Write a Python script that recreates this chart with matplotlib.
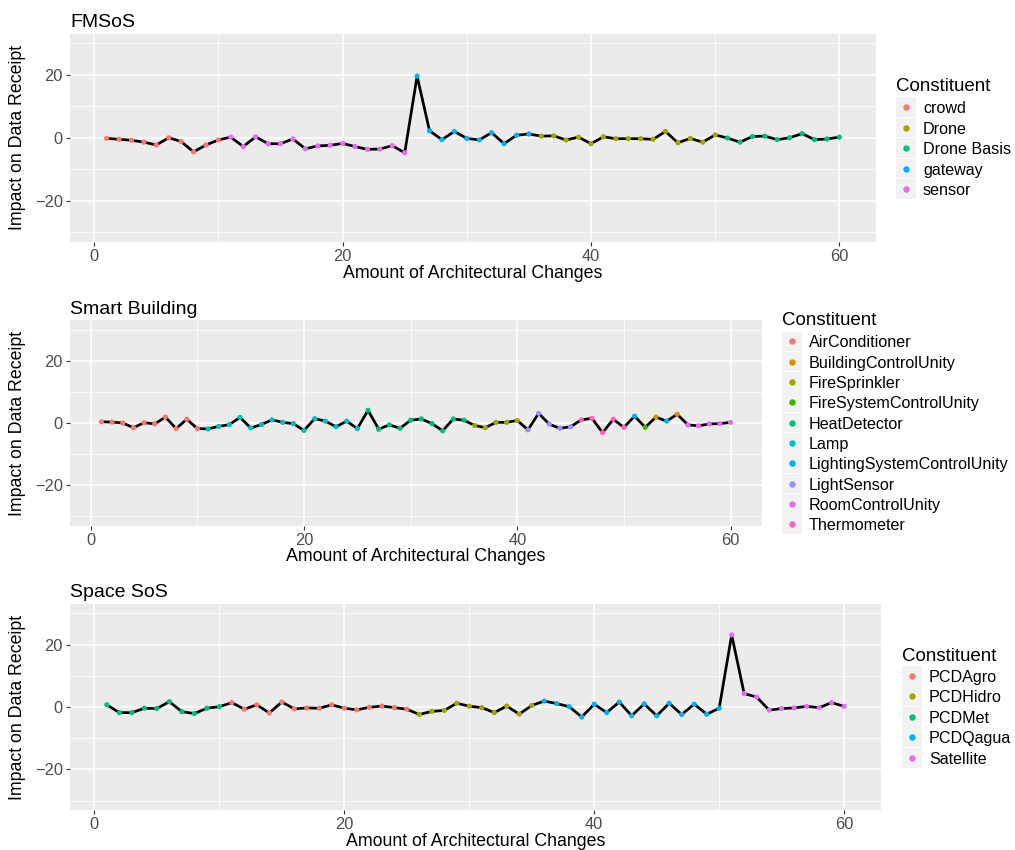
import matplotlib
matplotlib.use("Agg")
import matplotlib.pyplot as plt
import matplotlib.transforms as mtransforms
from matplotlib.patches import Rectangle
from matplotlib.lines import Line2D

plt.rcParams['font.family'] = ['Liberation Sans', 'DejaVu Sans']

steps = list(range(1, 61))

# FMSoS
fmsos_values = [-0.2, -0.5, -0.8, -1.4, -2.3, 0.0, -1.2, -4.5, -2.3, -0.7,
                0.2, -2.8, 0.3, -1.9, -1.9, -0.4, -3.5, -2.6, -2.4, -1.8,
                -2.8, -3.7, -3.6, -2.5, -4.8, 19.6, 2.2, -0.6, 2.0, -0.2,
                -0.7, 1.6, -1.9, 0.8, 1.2, 0.5, 0.6, -0.7, 0.2, -1.9,
                0.3, -0.3, -0.3, -0.3, -0.5, 2.0, -1.6, -0.2, -1.4, 0.9,
                -0.1, -1.4, 0.4, 0.5, -0.6, 0.0, 1.3, -0.6, -0.4, 0.2]
fmsos_constituent = (["crowd"] * 10 + ["sensor"] * 15 + ["gateway"] * 10
                     + ["Drone"] * 15 + ["Drone Basis"] * 10)
fmsos_levels = ["crowd", "Drone", "Drone Basis", "gateway", "sensor"]

# Smart Building
sb_values = [0.4, 0.3, 0.0, -1.5, 0.1, -0.3, 1.9, -1.8, 1.2, -1.8,
             -1.9, -1.1, -0.5, 1.8, -1.6, -0.5, 1.0, 0.2, -0.2, -2.4,
             1.4, 0.6, -1.2, 0.6, -1.8, 4.1, -2.0, -0.6, -1.7, 0.9,
             1.3, -0.2, -2.5, 1.3, 0.9, -0.8, -1.5, 0.2, 0.2, 0.8,
             -2.2, 3.1, -0.4, -1.7, -1.2, 1.0, 1.5, -3.1, 1.2, -1.4,
             2.2, -1.4, 1.9, 0.6, 2.8, -0.6, -0.9, -0.3, -0.2, 0.2]
sb_constituent = (["AirConditioner"] * 10 + ["Lamp"] * 15 + ["HeatDetector"] * 10
                  + ["FireSprinkler"] * 5 + ["LightSensor"] * 5 + ["Thermometer"] * 5
                  + ["LightingSystemControlUnity", "FireSystemControlUnity",
                     "BuildingControlUnity", "LightingSystemControlUnity",
                     "BuildingControlUnity"]
                  + ["RoomControlUnity"] * 5)
sb_levels = ["AirConditioner", "BuildingControlUnity", "FireSprinkler",
             "FireSystemControlUnity", "HeatDetector", "Lamp",
             "LightingSystemControlUnity", "LightSensor", "RoomControlUnity",
             "Thermometer"]

# Space SoS
space_values = [0.7, -1.8, -1.8, -0.4, -0.5, 1.7, -1.5, -2.1, -0.4, 0.1,
                1.4, -0.7, 0.7, -1.9, 1.6, -0.6, -0.3, -0.4, 0.7, -0.4,
                -0.9, -0.1, 0.3, -0.2, -0.7, -2.4, -1.4, -1.1, 1.2, 0.25,
                -0.2, -1.8, 0.3, -2.3, 0.5, 1.9, 1.1, 0.1, -3.2, 0.9,
                -1.8, 1.6, -2.8, 1.0, -2.8, 1.2, -2.4, 0.9, -2.3, -0.4,
                23.1, 4.3, 3.2, -1.0, -0.5, -0.3, 0.2, -0.2, 1.4, 0.2]
space_constituent = (["PCDMet"] * 10 + ["PCDAgro"] * 15 + ["PCDHidro"] * 10
                     + ["PCDQagua"] * 15 + ["Satellite"] * 10)
space_levels = ["PCDAgro", "PCDHidro", "PCDMet", "PCDQagua", "Satellite"]

hue5 = ["#F8766D", "#A3A500", "#00BF7D", "#00B0F6", "#E76BF3"]
hue10 = ["#F8766D", "#D89000", "#A3A500", "#39B600", "#00BF7D",
         "#00BFC4", "#00B0F6", "#9590FF", "#E76BF3", "#FF62BC"]

W, H = 1015, 850
fig = plt.figure(figsize=(W / 100, H / 100), dpi=100)


def px_rect(left, right, top, bottom):
    return [left / W, 1 - bottom / H, (right - left) / W, (bottom - top) / H]


panels = [
    dict(title="FMSoS", values=fmsos_values, groups=fmsos_constituent,
         levels=fmsos_levels, colors=hue5, rect=(70, 876, 34, 241.5),
         xlab_y=273, leg_x=896, leg_title_y=90.7, leg_y0=107, leg_dy=20.5),
    dict(title="Smart Building", values=sb_values, groups=sb_constituent,
         levels=sb_levels, colors=hue10, rect=(70, 762, 320.5, 525.5),
         xlab_y=556.5, leg_x=782, leg_title_y=325, leg_y0=341.3, leg_dy=20.33),
    dict(title="Space SoS", values=space_values, groups=space_constituent,
         levels=space_levels, colors=hue5, rect=(70, 881, 604, 810),
         xlab_y=841, leg_x=902, leg_title_y=660.7, leg_y0=675.7, leg_dy=20.5),
]

for p in panels:
    ax = fig.add_axes(px_rect(*p["rect"]))
    ax.set_facecolor("#EBEBEB")
    for s in ax.spines.values():
        s.set_visible(False)
    ax.set_xlim(1 - 2.95, 60 + 2.95)
    ax.set_ylim(-33, 33)
    ax.set_xticks([0, 20, 40, 60])
    ax.set_xticks([10, 30, 50], minor=True)
    ax.set_yticks([-20, 0, 20])
    ax.set_yticks([-30, -10, 10, 30], minor=True)
    ax.grid(True, which="major", color="white", linewidth=1.1)
    ax.grid(True, which="minor", color="white", linewidth=0.55)
    ax.set_axisbelow(True)
    ax.tick_params(which="major", length=2.6, width=0.8, color="#333333",
                   labelcolor="#4D4D4D", labelsize=11.8, pad=2.5)
    ax.tick_params(which="minor", length=0)

    color_of = dict(zip(p["levels"], p["colors"]))
    ax.plot(steps, p["values"], color="black", linewidth=1.95, zorder=2)
    ax.scatter(steps, p["values"], c=[color_of[g] for g in p["groups"]],
               s=14, linewidths=0, zorder=3)

    ax.set_title(p["title"], loc="left", fontsize=14, pad=5)
    ax.set_xlabel("Amount of Architectural Changes", fontsize=12.8, va="center")
    ax.xaxis.set_label_coords(
        0.5, 1 - p["xlab_y"] / H,
        transform=mtransforms.blended_transform_factory(ax.transAxes, fig.transFigure))
    ax.set_ylabel("Impact on Data Receipt", fontsize=12.8, va="center")
    top, bottom = p["rect"][2], p["rect"][3]
    ax.yaxis.set_label_coords(18 / W, 1 - (top + bottom) / 2 / H,
                              transform=fig.transFigure)

    # legend drawn in ggplot style
    lx = p["leg_x"]
    fig.text(lx / W, 1 - p["leg_title_y"] / H, "Constituent", fontsize=13.5,
             va="baseline", ha="left")
    for i, (lev, col) in enumerate(zip(p["levels"], p["colors"])):
        cy = p["leg_y0"] + i * p["leg_dy"]
        fig.add_artist(Rectangle((lx / W, 1 - (cy + 9.8) / H), 19.6 / W, 19.6 / H,
                                 transform=fig.transFigure, facecolor="#F2F2F2",
                                 edgecolor="none"))
        fig.add_artist(Line2D([(lx + 9.8) / W], [1 - cy / H], marker="o",
                              markersize=3.6, color=col, linestyle="none",
                              transform=fig.transFigure))
        fig.text((lx + 27) / W, 1 - cy / H, lev, fontsize=11.6,
                 va="center_baseline", ha="left")

fig.savefig("out.png", dpi=100)
